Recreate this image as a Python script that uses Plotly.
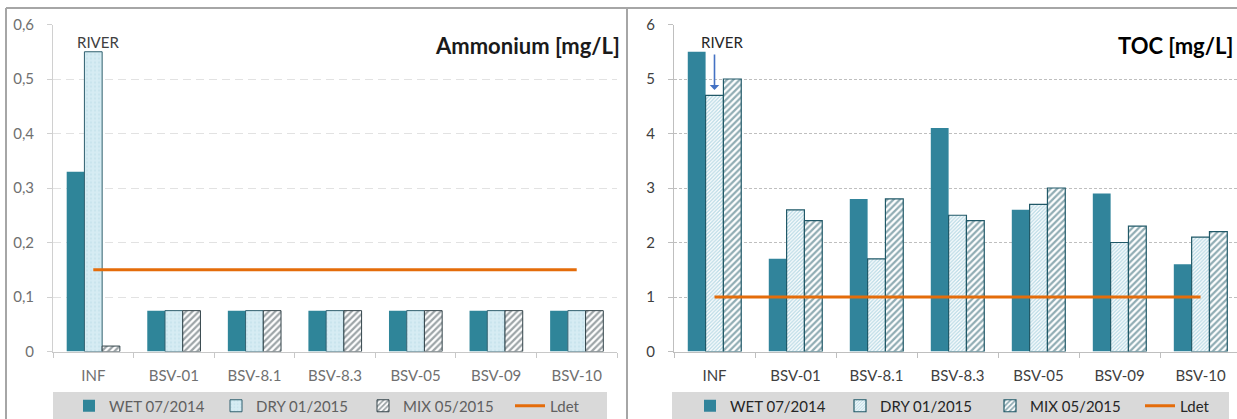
import plotly.graph_objects as go

categories = ["INF", "BSV-01", "BSV-8.1", "BSV-8.3", "BSV-05", "BSV-09", "BSV-10"]
series_names = ["WET 07/2014", "DRY 01/2015", "MIX 05/2015", "Ldet"]

amm_wet = [0.33, 0.075, 0.075, 0.075, 0.075, 0.075, 0.075]
amm_dry = [0.55, 0.075, 0.075, 0.075, 0.075, 0.075, 0.075]
amm_mix = [0.01, 0.075, 0.075, 0.075, 0.075, 0.075, 0.075]
amm_ldet = [0.15, 0.15, 0.15, 0.15, 0.15, 0.15, 0.15]

toc_wet = [5.5, 1.7, 2.8, 4.1, 2.6, 2.9, 1.6]
toc_dry = [4.7, 2.6, 1.7, 2.5, 2.7, 2.0, 2.1]
toc_mix = [5.0, 2.4, 2.8, 2.4, 3.0, 2.3, 2.2]
toc_ldet = [1, 1, 1, 1, 1, 1, 1]

amm_ticks = [0, 0.1, 0.2, 0.3, 0.4, 0.5, 0.6]
amm_ticktext = ["0", "0,1", "0,2", "0,3", "0,4", "0,5", "0,6"]
toc_ticks = [0, 1, 2, 3, 4, 5, 6]

W, H = 1237, 419
FONT = "Lato, 'Open Sans', sans-serif"
TEAL = "#31849B"
DARK = "#215968"
ORANGE = "#E46C0A"

def px(x):
    return x / W

def py(y):
    return 1 - y / H

fig = go.Figure()

# ---- left panel: Ammonium ----
fig.add_trace(go.Bar(x=categories, y=amm_wet, name=series_names[0], xaxis="x", yaxis="y",
                     marker=dict(color="#2F8599", line=dict(width=0)), legend="legend"))
fig.add_trace(go.Bar(x=categories, y=amm_dry, name=series_names[1], xaxis="x", yaxis="y",
                     marker=dict(color="#D2EAF1", line=dict(width=1, color="#2F5F6E"),
                                 pattern=dict(shape=".", fgcolor="#BCDCE6", bgcolor="#D6ECF3", size=4, solidity=0.3)),
                     legend="legend"))
fig.add_trace(go.Bar(x=categories, y=amm_mix, name=series_names[2], xaxis="x", yaxis="y",
                     marker=dict(color="white", line=dict(width=1, color="#34454B"),
                                 pattern=dict(shape="/", fgcolor="#3A4A50", bgcolor="white", size=4.5, solidity=0.5)),
                     legend="legend"))
fig.add_trace(go.Scatter(x=categories, y=amm_ldet, name=series_names[3], xaxis="x", yaxis="y",
                         mode="lines", line=dict(color=ORANGE, width=3), legend="legend"))

# ---- right panel: TOC ----
fig.add_trace(go.Bar(x=categories, y=toc_wet, name=series_names[0], xaxis="x2", yaxis="y2",
                     marker=dict(color=TEAL, line=dict(width=0)), legend="legend2"))
fig.add_trace(go.Bar(x=categories, y=toc_dry, name=series_names[1], xaxis="x2", yaxis="y2",
                     marker=dict(color="white", line=dict(width=1.2, color=DARK),
                                 pattern=dict(shape="/", fgcolor="#6FB3CA", bgcolor="white", size=2.6, solidity=0.5)),
                     legend="legend2"))
fig.add_trace(go.Bar(x=categories, y=toc_mix, name=series_names[2], xaxis="x2", yaxis="y2",
                     marker=dict(color="white", line=dict(width=1.2, color=DARK),
                                 pattern=dict(shape="/", fgcolor=DARK, bgcolor="white", size=4.5, solidity=0.5)),
                     legend="legend2"))
fig.add_trace(go.Scatter(x=categories, y=toc_ldet, name=series_names[3], xaxis="x2", yaxis="y2",
                         mode="lines", line=dict(color=ORANGE, width=3), legend="legend2"))

ydom = [py(351.5), py(24.5)]

common_x = dict(type="category", showgrid=False, ticks="outside", tickson="boundaries", ticklen=5,
                showline=True, zeroline=False, ticklabelstandoff=10)
common_y = dict(showgrid=True, zeroline=False, showline=True, ticks="outside", ticklen=5,
                ticklabelstandoff=10)

fig.update_layout(
    width=W, height=H,
    margin=dict(l=0, r=0, t=0, b=0, autoexpand=False),
    paper_bgcolor="white", plot_bgcolor="white",
    barmode="group",
    font=dict(family=FONT, size=15, color="#404040"),
    xaxis=dict(domain=[px(53), px(617)], range=[-0.5, 6.5], anchor="y",
               linecolor="#C8C8C8", tickcolor="#C8C8C8",
               tickfont=dict(color="#707070", size=15), **common_x),
    yaxis=dict(domain=ydom, range=[0, 0.6], anchor="x", tickvals=amm_ticks, ticktext=amm_ticktext,
               gridcolor="#E2E2E2", griddash="8px,5px", linecolor="#D0D0D0", tickcolor="#D0D0D0",
               tickfont=dict(color="#707070", size=15), **common_y),
    xaxis2=dict(domain=[px(674), 1.0], range=[-0.5, 6.45], anchor="y2",
                linecolor="#BFBFBF", tickcolor="#BFBFBF",
                tickfont=dict(color="#404040", size=15), **common_x),
    yaxis2=dict(domain=ydom, range=[0, 6], anchor="x2", tickvals=toc_ticks,
                gridcolor="#BFBFBF", griddash="3px,2px", linecolor="#BFBFBF", tickcolor="#BFBFBF",
                tickfont=dict(color="#404040", size=15), **common_y),
    legend=dict(orientation="h", x=px(69), xanchor="left", y=py(406), yanchor="middle",
                bgcolor="rgba(0,0,0,0)", font=dict(size=15, color="#606060"),
                entrywidth=102, traceorder="normal"),
    legend2=dict(orientation="h", x=px(690), xanchor="left", y=py(406), yanchor="middle",
                 bgcolor="rgba(0,0,0,0)", font=dict(size=15, color="#262626"),
                 entrywidth=105, traceorder="normal"),
    bargap=0.34,
)

shapes = [
    # legend bands
    dict(type="rect", xref="paper", yref="paper", x0=px(53), x1=px(607), y0=0, y1=py(392),
         fillcolor="#D9D9D9", line=dict(width=0), layer="below"),
    dict(type="rect", xref="paper", yref="paper", x0=px(672), x1=px(1229), y0=0, y1=py(392),
         fillcolor="#D9D9D9", line=dict(width=0), layer="below"),
    # panel borders
    dict(type="line", xref="paper", yref="paper", x0=px(6), x1=1, y0=py(8), y1=py(8),
         line=dict(color="#A6A6A6", width=2)),
    dict(type="line", xref="paper", yref="paper", x0=px(6), x1=px(6), y0=0, y1=py(8),
         line=dict(color="#A6A6A6", width=2)),
    dict(type="line", xref="paper", yref="paper", x0=px(627), x1=px(627), y0=0, y1=py(8),
         line=dict(color="#A6A6A6", width=2)),
]

annotations = [
    dict(text="<b>Ammonium [mg/L]</b>", xref="paper", yref="paper", x=px(622), y=py(45),
         xanchor="right", yanchor="middle", showarrow=False, font=dict(size=22, color="#1A1A1A")),
    dict(text="<b>TOC [mg/L]</b>", xref="paper", yref="paper", x=px(1235), y=py(45),
         xanchor="right", yanchor="middle", showarrow=False, font=dict(size=22, color="#000000")),
    dict(text="RIVER", xref="paper", yref="paper", x=px(98), y=py(42),
         xanchor="center", yanchor="middle", showarrow=False, font=dict(size=15, color="#404040")),
    dict(text="RIVER", xref="paper", yref="paper", x=px(722), y=py(42),
         xanchor="center", yanchor="middle", showarrow=False, font=dict(size=15, color="#262626")),
    dict(text="", xref="x2", yref="y2", x="INF", y=4.8, ax=0, ay=-37, axref="pixel", ayref="pixel",
         showarrow=True, arrowhead=1, arrowsize=1, arrowwidth=1.6, arrowcolor="#4472C4"),
]

fig.update_layout(shapes=shapes, annotations=annotations)
fig.write_html("out.html",
               config={"displayModeBar": False},
               post_script="document.body.style.margin='0';document.body.style.overflow='hidden';")
